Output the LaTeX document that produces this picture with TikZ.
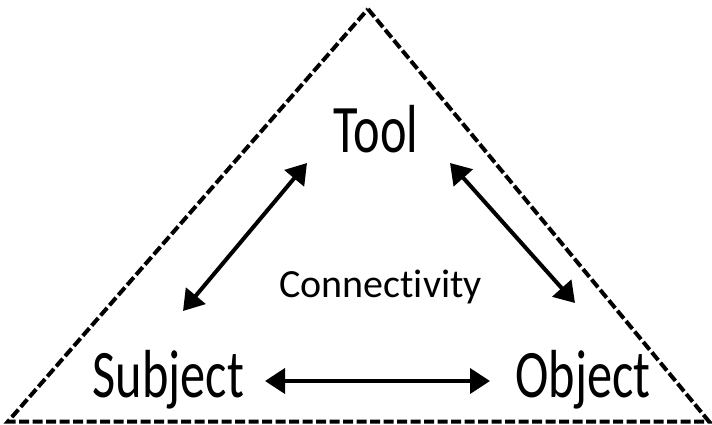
\documentclass[tikz,border=0pt]{standalone}
\usepackage{fontspec}
\setmainfont{Carlito}[FakeStretch=0.74, Ligatures=NoCommon]
\newfontfamily\plainfont{Carlito}[Ligatures={NoCommon,NoRare}]
\usetikzlibrary{arrows.meta}
\tikzset{
  frame/.style={line width=4pt, dash pattern=on 10pt off 3.5pt, line join=miter},
  biarrow/.style={line width=4pt, {Triangle[length=20pt,width=25pt]}-{Triangle[length=20pt,width=25pt]}},
  bigword/.style={inner sep=0pt, anchor=base, font=\fontsize{68pt}{68pt}\selectfont},
  smallword/.style={inner sep=0pt, anchor=base, font=\plainfont\fontsize{40pt}{40pt}\selectfont}
}
\begin{document}
\begin{tikzpicture}[x=1pt, y=-1pt]
  \useasboundingbox (0,0) rectangle (712,424);
  % outer dashed triangle
  \coordinate (apex) at (368,9);
  \coordinate (bl) at (8,421.5);
  \coordinate (br) at (709,421.5);
  \draw[frame] (apex) -- (br) -- (bl) -- cycle;
  % labels
  \node[bigword] (tool) at (376,152) {Tool};
  \node[bigword] (subject) at (168.5,397) {Subject};
  \node[bigword] (object) at (583,397) {Object};
  \node[smallword] (conn) at (380.5,297) {Connectivity};
  % arrow end points
  \coordinate (lt) at (307,163);
  \coordinate (lb) at (183,311);
  \coordinate (rt) at (450,163);
  \coordinate (rb) at (575,303);
  \coordinate (bs) at (265,381);
  \coordinate (bo) at (490,381);
  \draw[biarrow] (lb) -- (lt);
  \draw[biarrow] (rt) -- (rb);
  \draw[biarrow] (bs) -- (bo);
\end{tikzpicture}
\end{document}
